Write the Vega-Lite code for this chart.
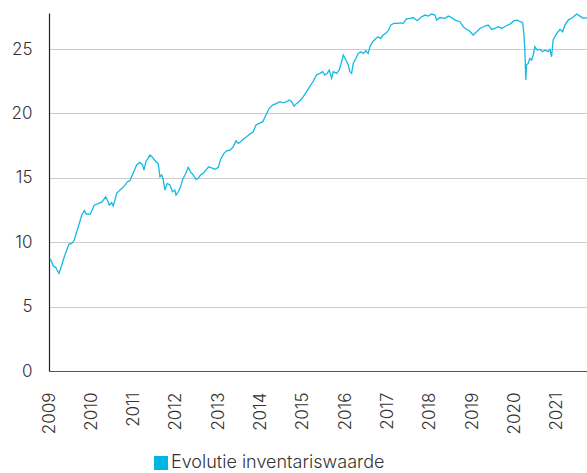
{
  "$schema": "https://vega.github.io/schema/vega-lite/v6.json",
  "autosize": {"type": "none"},
  "width": 538,
  "height": 358,
  "padding": {"left": 49, "top": 13, "right": 0, "bottom": 102},
  "background": "white",
  "config": {
    "view": {"stroke": null},
    "font": "Inter",
    "axis": {"labelFont": "Inter", "labelFontWeight": 300, "labelColor": "#333333", "labelFontSize": 17, "title": null}
  },
  "data": {"values": [
    {"date": "2009-01-08", "nav": 8.7},
    {"date": "2009-01-18", "nav": 8.62},
    {"date": "2009-02-07", "nav": 8.15},
    {"date": "2009-02-28", "nav": 8.05},
    {"date": "2009-03-11", "nav": 7.84},
    {"date": "2009-03-28", "nav": 7.58},
    {"date": "2009-04-15", "nav": 8.05},
    {"date": "2009-05-04", "nav": 8.62},
    {"date": "2009-06-03", "nav": 9.4},
    {"date": "2009-06-23", "nav": 9.86},
    {"date": "2009-07-16", "nav": 9.9},
    {"date": "2009-08-07", "nav": 10.17},
    {"date": "2009-08-28", "nav": 10.8},
    {"date": "2009-09-20", "nav": 11.47},
    {"date": "2009-10-10", "nav": 12.1},
    {"date": "2009-11-02", "nav": 12.45},
    {"date": "2009-11-18", "nav": 12.19},
    {"date": "2009-12-21", "nav": 12.17},
    {"date": "2010-01-09", "nav": 12.5},
    {"date": "2010-01-27", "nav": 12.89},
    {"date": "2010-03-02", "nav": 13.0},
    {"date": "2010-04-05", "nav": 13.15},
    {"date": "2010-05-05", "nav": 13.53},
    {"date": "2010-05-22", "nav": 13.22},
    {"date": "2010-06-05", "nav": 12.89},
    {"date": "2010-06-25", "nav": 13.07},
    {"date": "2010-07-09", "nav": 12.81},
    {"date": "2010-07-24", "nav": 13.28},
    {"date": "2010-08-08", "nav": 13.8},
    {"date": "2010-09-05", "nav": 14.05},
    {"date": "2010-10-03", "nav": 14.26},
    {"date": "2010-11-10", "nav": 14.7},
    {"date": "2010-11-30", "nav": 14.78},
    {"date": "2010-12-28", "nav": 15.35},
    {"date": "2011-01-27", "nav": 16.0},
    {"date": "2011-02-24", "nav": 16.2},
    {"date": "2011-03-20", "nav": 16.0},
    {"date": "2011-03-31", "nav": 15.6},
    {"date": "2011-04-17", "nav": 16.25},
    {"date": "2011-05-22", "nav": 16.77},
    {"date": "2011-06-14", "nav": 16.59},
    {"date": "2011-07-12", "nav": 16.25},
    {"date": "2011-08-01", "nav": 16.12},
    {"date": "2011-08-16", "nav": 15.09},
    {"date": "2011-08-31", "nav": 15.22},
    {"date": "2011-09-13", "nav": 14.88},
    {"date": "2011-09-28", "nav": 14.05},
    {"date": "2011-10-18", "nav": 14.57},
    {"date": "2011-11-10", "nav": 14.44},
    {"date": "2011-12-03", "nav": 13.92},
    {"date": "2011-12-23", "nav": 14.05},
    {"date": "2012-01-02", "nav": 13.66},
    {"date": "2012-01-21", "nav": 13.92},
    {"date": "2012-02-10", "nav": 14.31},
    {"date": "2012-02-28", "nav": 14.88},
    {"date": "2012-03-27", "nav": 15.35},
    {"date": "2012-04-16", "nav": 15.82},
    {"date": "2012-05-07", "nav": 15.47},
    {"date": "2012-05-29", "nav": 15.22},
    {"date": "2012-06-22", "nav": 14.88},
    {"date": "2012-07-11", "nav": 14.96},
    {"date": "2012-08-01", "nav": 15.22},
    {"date": "2012-08-24", "nav": 15.35},
    {"date": "2012-09-16", "nav": 15.6},
    {"date": "2012-10-09", "nav": 15.86},
    {"date": "2012-11-04", "nav": 15.78},
    {"date": "2012-12-03", "nav": 15.66},
    {"date": "2013-01-01", "nav": 15.82},
    {"date": "2013-01-21", "nav": 16.45},
    {"date": "2013-02-19", "nav": 16.9},
    {"date": "2013-03-14", "nav": 17.1},
    {"date": "2013-04-12", "nav": 17.15},
    {"date": "2013-05-10", "nav": 17.41},
    {"date": "2013-06-03", "nav": 17.88},
    {"date": "2013-06-22", "nav": 17.68},
    {"date": "2013-07-13", "nav": 17.8},
    {"date": "2013-08-04", "nav": 17.99},
    {"date": "2013-09-02", "nav": 18.19},
    {"date": "2013-10-01", "nav": 18.4},
    {"date": "2013-10-29", "nav": 18.58},
    {"date": "2013-11-22", "nav": 19.1},
    {"date": "2013-12-20", "nav": 19.23},
    {"date": "2014-01-19", "nav": 19.36},
    {"date": "2014-02-16", "nav": 19.88},
    {"date": "2014-03-16", "nav": 20.4},
    {"date": "2014-04-15", "nav": 20.65},
    {"date": "2014-05-19", "nav": 20.78},
    {"date": "2014-06-17", "nav": 20.91},
    {"date": "2014-07-15", "nav": 20.83},
    {"date": "2014-08-13", "nav": 20.91},
    {"date": "2014-09-05", "nav": 21.04},
    {"date": "2014-09-26", "nav": 20.91},
    {"date": "2014-10-16", "nav": 20.57},
    {"date": "2014-11-08", "nav": 20.78},
    {"date": "2014-12-07", "nav": 20.99},
    {"date": "2015-01-04", "nav": 21.3},
    {"date": "2015-02-02", "nav": 21.69},
    {"date": "2015-03-02", "nav": 22.1},
    {"date": "2015-03-31", "nav": 22.5},
    {"date": "2015-04-29", "nav": 23.0},
    {"date": "2015-05-28", "nav": 23.11},
    {"date": "2015-06-20", "nav": 23.24},
    {"date": "2015-07-10", "nav": 22.98},
    {"date": "2015-07-30", "nav": 23.11},
    {"date": "2015-08-16", "nav": 23.37},
    {"date": "2015-09-05", "nav": 22.73},
    {"date": "2015-09-19", "nav": 23.24},
    {"date": "2015-10-19", "nav": 23.11},
    {"date": "2015-11-10", "nav": 23.37},
    {"date": "2015-12-01", "nav": 24.01},
    {"date": "2015-12-15", "nav": 24.53},
    {"date": "2016-01-07", "nav": 24.15},
    {"date": "2016-01-27", "nav": 23.76},
    {"date": "2016-02-10", "nav": 23.24},
    {"date": "2016-02-25", "nav": 23.11},
    {"date": "2016-03-10", "nav": 23.88},
    {"date": "2016-04-02", "nav": 24.27},
    {"date": "2016-04-22", "nav": 24.66},
    {"date": "2016-05-13", "nav": 24.79},
    {"date": "2016-06-04", "nav": 24.66},
    {"date": "2016-06-27", "nav": 24.87},
    {"date": "2016-07-17", "nav": 24.66},
    {"date": "2016-08-01", "nav": 25.18},
    {"date": "2016-08-24", "nav": 25.57},
    {"date": "2016-09-22", "nav": 25.82},
    {"date": "2016-10-11", "nav": 25.95},
    {"date": "2016-11-01", "nav": 25.82},
    {"date": "2016-11-23", "nav": 26.09},
    {"date": "2016-12-17", "nav": 26.22},
    {"date": "2017-01-10", "nav": 26.48},
    {"date": "2017-01-27", "nav": 26.86},
    {"date": "2017-02-24", "nav": 27.0},
    {"date": "2017-03-25", "nav": 27.0},
    {"date": "2017-04-23", "nav": 27.04},
    {"date": "2017-05-16", "nav": 27.0},
    {"date": "2017-06-12", "nav": 27.35},
    {"date": "2017-07-12", "nav": 27.38},
    {"date": "2017-08-10", "nav": 27.45},
    {"date": "2017-09-13", "nav": 27.2},
    {"date": "2017-10-21", "nav": 27.5},
    {"date": "2017-11-19", "nav": 27.64},
    {"date": "2017-12-17", "nav": 27.56},
    {"date": "2018-01-16", "nav": 27.72},
    {"date": "2018-02-13", "nav": 27.64},
    {"date": "2018-02-28", "nav": 27.25},
    {"date": "2018-03-28", "nav": 27.45},
    {"date": "2018-05-10", "nav": 27.38},
    {"date": "2018-06-08", "nav": 27.56},
    {"date": "2018-07-07", "nav": 27.45},
    {"date": "2018-08-05", "nav": 27.25},
    {"date": "2018-09-17", "nav": 27.12},
    {"date": "2018-10-15", "nav": 26.73},
    {"date": "2018-11-13", "nav": 26.52},
    {"date": "2018-12-06", "nav": 26.42},
    {"date": "2019-01-09", "nav": 26.09},
    {"date": "2019-02-08", "nav": 26.34},
    {"date": "2019-03-08", "nav": 26.6},
    {"date": "2019-04-20", "nav": 26.79},
    {"date": "2019-05-19", "nav": 26.86},
    {"date": "2019-06-17", "nav": 26.52},
    {"date": "2019-07-15", "nav": 26.6},
    {"date": "2019-08-13", "nav": 26.73},
    {"date": "2019-09-11", "nav": 26.6},
    {"date": "2019-10-18", "nav": 26.79},
    {"date": "2019-11-22", "nav": 26.94},
    {"date": "2019-12-27", "nav": 27.2},
    {"date": "2020-01-24", "nav": 27.25},
    {"date": "2020-02-22", "nav": 27.12},
    {"date": "2020-03-11", "nav": 27.04},
    {"date": "2020-03-21", "nav": 26.2},
    {"date": "2020-03-30", "nav": 24.92},
    {"date": "2020-04-07", "nav": 22.59},
    {"date": "2020-04-13", "nav": 23.76},
    {"date": "2020-04-27", "nav": 23.88},
    {"date": "2020-05-12", "nav": 24.27},
    {"date": "2020-05-27", "nav": 24.15},
    {"date": "2020-06-10", "nav": 24.53},
    {"date": "2020-06-24", "nav": 25.18},
    {"date": "2020-07-14", "nav": 24.92},
    {"date": "2020-08-06", "nav": 24.97},
    {"date": "2020-08-30", "nav": 24.79},
    {"date": "2020-09-19", "nav": 24.92},
    {"date": "2020-10-17", "nav": 24.79},
    {"date": "2020-11-01", "nav": 24.97},
    {"date": "2020-11-15", "nav": 24.4},
    {"date": "2020-11-29", "nav": 25.7},
    {"date": "2020-12-29", "nav": 26.2},
    {"date": "2021-01-27", "nav": 26.52},
    {"date": "2021-02-19", "nav": 26.34},
    {"date": "2021-03-11", "nav": 26.86},
    {"date": "2021-04-08", "nav": 27.25},
    {"date": "2021-05-16", "nav": 27.45},
    {"date": "2021-06-20", "nav": 27.72},
    {"date": "2021-07-18", "nav": 27.56},
    {"date": "2021-08-16", "nav": 27.38},
    {"date": "2021-09-17", "nav": 27.45}
  ]},
  "mark": {"type": "line", "strokeWidth": 1.3, "clip": true},
  "encoding": {
    "x": {
      "field": "date",
      "type": "temporal",
      "scale": {"type": "utc", "domain": [{"year": 2009, "month": 1, "date": 1, "utc": true}, {"year": 2021, "month": 9, "date": 17, "utc": true}], "nice": false},
      "axis": {
        "values": [
          {"year": 2009, "month": 1, "date": 1, "utc": true},
          {"year": 2010, "month": 1, "date": 1, "utc": true},
          {"year": 2011, "month": 1, "date": 1, "utc": true},
          {"year": 2012, "month": 1, "date": 1, "utc": true},
          {"year": 2013, "month": 1, "date": 1, "utc": true},
          {"year": 2014, "month": 1, "date": 1, "utc": true},
          {"year": 2015, "month": 1, "date": 1, "utc": true},
          {"year": 2016, "month": 1, "date": 1, "utc": true},
          {"year": 2017, "month": 1, "date": 1, "utc": true},
          {"year": 2018, "month": 1, "date": 1, "utc": true},
          {"year": 2019, "month": 1, "date": 1, "utc": true},
          {"year": 2020, "month": 1, "date": 1, "utc": true},
          {"year": 2021, "month": 1, "date": 1, "utc": true}
        ],
        "format": "%Y",
        "formatType": "utc",
        "labelAngle": -90,
        "labelAlign": "right",
        "labelBaseline": "middle",
        "labelPadding": 21,
        "ticks": false,
        "tickSize": 0,
        "grid": false,
        "domainColor": "#555555",
        "domainWidth": 1.2,
        "labelFlush": false,
        "labelOverlap": false
      }
    },
    "y": {
      "field": "nav",
      "type": "quantitative",
      "scale": {"domain": [0, 27.8], "nice": false, "zero": true},
      "axis": {
        "values": [0, 5, 10, 15, 20, 25],
        "ticks": false,
        "tickSize": 0,
        "labelPadding": 17,
        "grid": true,
        "gridColor": "#cccccc",
        "gridWidth": 1,
        "domainColor": "#222222",
        "domainWidth": 1.2
      }
    },
    "color": {
      "datum": "Evolutie inventariswaarde",
      "type": "nominal",
      "scale": {"range": ["#14B9E4"]},
      "legend": {
        "title": null,
        "orient": "none",
        "legendX": 103,
        "legendY": 441,
        "symbolType": "square",
        "symbolSize": 196,
        "symbolFillColor": "#00B5E2",
        "symbolStrokeWidth": 0,
        "labelFont": "Inter",
        "labelFontWeight": 300,
        "labelFontSize": 18,
        "labelColor": "#333333",
        "labelOffset": 1,
        "labelLimit": 400,
        "padding": 0,
        "encode": {"symbols": {"update": {"fill": {"value": "#00B5E2"}, "stroke": {"value": "#00B5E2"}, "strokeWidth": {"value": 0}}}}
      }
    }
  }
}
